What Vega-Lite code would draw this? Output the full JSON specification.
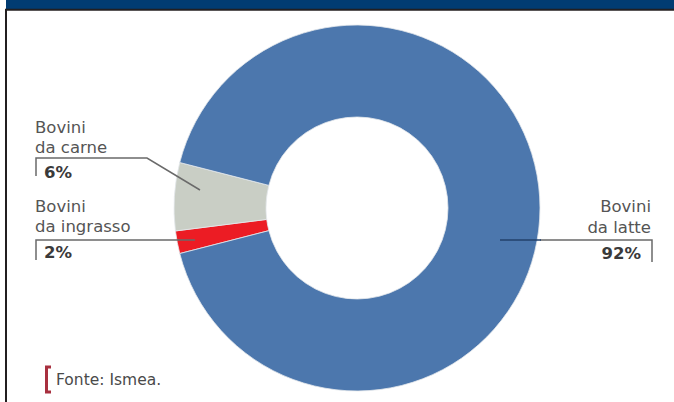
{
  "$schema": "https://vega.github.io/schema/vega-lite/v6.json",
  "width": 674,
  "height": 402,
  "autosize": "none",
  "padding": 0,
  "background": "#ffffff",
  "config": {"view": {"stroke": null}},
  "layer": [
    {
      "data": {"values": [{"x": 6, "x2": 674, "y": 0, "y2": 9}]},
      "mark": {"type": "rect", "color": "#013c72"},
      "encoding": {
        "x": {"field": "x", "type": "quantitative", "scale": {"domain": [0, 674], "nice": false, "zero": false}, "axis": null},
        "x2": {"field": "x2"},
        "y": {"field": "y", "type": "quantitative", "scale": {"domain": [0, 402], "nice": false, "zero": false, "reverse": true}, "axis": null},
        "y2": {"field": "y2"}
      }
    },
    {
      "data": {"values": [
        {"x": 5, "x2": 674, "y": 9.8, "y2": 9.8},
        {"x": 6, "x2": 6, "y": 9, "y2": 402}
      ]},
      "mark": {"type": "rule", "color": "#231f20", "strokeWidth": 2},
      "encoding": {
        "x": {"field": "x", "type": "quantitative", "scale": {"domain": [0, 674], "nice": false, "zero": false}, "axis": null},
        "x2": {"field": "x2"},
        "y": {"field": "y", "type": "quantitative", "scale": {"domain": [0, 402], "nice": false, "zero": false, "reverse": true}, "axis": null},
        "y2": {"field": "y2"}
      }
    },
    {
      "data": {"values": [
        {"cat": "Bovini da ingrasso", "v": 2, "ord": 1},
        {"cat": "Bovini da carne", "v": 6, "ord": 2},
        {"cat": "Bovini da latte", "v": 92, "ord": 3}
      ]},
      "mark": {"type": "arc", "radius": 183, "radius2": 91, "stroke": "#e4e9ec", "strokeWidth": 0.8},
      "encoding": {
        "theta": {"field": "v", "type": "quantitative", "stack": true, "scale": {"range": [4.461, 10.744]}},
        "order": {"field": "ord", "type": "quantitative"},
        "color": {"field": "cat", "type": "nominal", "legend": null,
          "scale": {"domain": ["Bovini da ingrasso", "Bovini da carne", "Bovini da latte"], "range": ["#ec1c24", "#c9cec5", "#4c77ad"]}},
        "x": {"datum": 357, "type": "quantitative", "scale": {"domain": [0, 674], "nice": false, "zero": false}, "axis": null},
        "y": {"datum": 208, "type": "quantitative", "scale": {"domain": [0, 402], "nice": false, "zero": false, "reverse": true}, "axis": null}
      }
    },
    {
      "data": {"values": [
        {"g": "carne", "i": 1, "x": 36, "y": 176},
        {"g": "carne", "i": 2, "x": 36, "y": 158},
        {"g": "carne", "i": 3, "x": 147, "y": 158},
        {"g": "carne", "i": 4, "x": 200, "y": 190},
        {"g": "ingrasso", "i": 1, "x": 36, "y": 260},
        {"g": "ingrasso", "i": 2, "x": 36, "y": 240},
        {"g": "ingrasso", "i": 3, "x": 195, "y": 240},
        {"g": "latte", "i": 1, "x": 540, "y": 240},
        {"g": "latte", "i": 2, "x": 652, "y": 240},
        {"g": "latte", "i": 3, "x": 652, "y": 262}
      ]},
      "mark": {"type": "line", "color": "#6a6a6a", "strokeWidth": 1.5},
      "encoding": {
        "x": {"field": "x", "type": "quantitative", "scale": {"domain": [0, 674], "nice": false, "zero": false}, "axis": null},
        "y": {"field": "y", "type": "quantitative", "scale": {"domain": [0, 402], "nice": false, "zero": false, "reverse": true}, "axis": null},
        "detail": {"field": "g", "type": "nominal"},
        "order": {"field": "i", "type": "quantitative"}
      }
    },
    {
      "data": {"values": [{"x": 500, "x2": 541, "y": 240}]},
      "mark": {"type": "rule", "color": "#22406b", "strokeWidth": 1.5},
      "encoding": {
        "x": {"field": "x", "type": "quantitative", "scale": {"domain": [0, 674], "nice": false, "zero": false}, "axis": null},
        "x2": {"field": "x2"},
        "y": {"field": "y", "type": "quantitative", "scale": {"domain": [0, 402], "nice": false, "zero": false, "reverse": true}, "axis": null}
      }
    },
    {
      "data": {"values": [
        {"i": 1, "x": 51, "y": 367},
        {"i": 2, "x": 46.5, "y": 367},
        {"i": 3, "x": 46.5, "y": 392},
        {"i": 4, "x": 51, "y": 392}
      ]},
      "mark": {"type": "line", "color": "#a8303f", "strokeWidth": 3},
      "encoding": {
        "x": {"field": "x", "type": "quantitative", "scale": {"domain": [0, 674], "nice": false, "zero": false}, "axis": null},
        "y": {"field": "y", "type": "quantitative", "scale": {"domain": [0, 402], "nice": false, "zero": false, "reverse": true}, "axis": null},
        "order": {"field": "i", "type": "quantitative"}
      }
    },
    {
      "data": {"values": [
        {"t": "Bovini\nda carne", "x": 35, "y": 133},
        {"t": "Bovini\nda ingrasso", "x": 35, "y": 212}
      ]},
      "mark": {"type": "text", "align": "left", "baseline": "alphabetic", "lineBreak": "\n", "lineHeight": 20, "font": "DejaVu Sans", "fontSize": 16.5, "color": "#555555"},
      "encoding": {
        "x": {"field": "x", "type": "quantitative", "scale": {"domain": [0, 674], "nice": false, "zero": false}, "axis": null},
        "y": {"field": "y", "type": "quantitative", "scale": {"domain": [0, 402], "nice": false, "zero": false, "reverse": true}, "axis": null},
        "text": {"field": "t", "type": "nominal"}
      }
    },
    {
      "data": {"values": [
        {"t": "Bovini\nda latte", "x": 651, "y": 212}
      ]},
      "mark": {"type": "text", "align": "right", "baseline": "alphabetic", "lineBreak": "\n", "lineHeight": 21, "font": "DejaVu Sans", "fontSize": 16.5, "color": "#555555"},
      "encoding": {
        "x": {"field": "x", "type": "quantitative", "scale": {"domain": [0, 674], "nice": false, "zero": false}, "axis": null},
        "y": {"field": "y", "type": "quantitative", "scale": {"domain": [0, 402], "nice": false, "zero": false, "reverse": true}, "axis": null},
        "text": {"field": "t", "type": "nominal"}
      }
    },
    {
      "data": {"values": [
        {"t": "6%", "x": 44, "y": 178},
        {"t": "2%", "x": 44, "y": 258}
      ]},
      "mark": {"type": "text", "align": "left", "baseline": "alphabetic", "font": "DejaVu Sans", "fontSize": 16.5, "fontWeight": "bold", "color": "#3a3a3a"},
      "encoding": {
        "x": {"field": "x", "type": "quantitative", "scale": {"domain": [0, 674], "nice": false, "zero": false}, "axis": null},
        "y": {"field": "y", "type": "quantitative", "scale": {"domain": [0, 402], "nice": false, "zero": false, "reverse": true}, "axis": null},
        "text": {"field": "t", "type": "nominal"}
      }
    },
    {
      "data": {"values": [
        {"t": "92%", "x": 641, "y": 259}
      ]},
      "mark": {"type": "text", "align": "right", "baseline": "alphabetic", "font": "DejaVu Sans", "fontSize": 16.5, "fontWeight": "bold", "color": "#3a3a3a"},
      "encoding": {
        "x": {"field": "x", "type": "quantitative", "scale": {"domain": [0, 674], "nice": false, "zero": false}, "axis": null},
        "y": {"field": "y", "type": "quantitative", "scale": {"domain": [0, 402], "nice": false, "zero": false, "reverse": true}, "axis": null},
        "text": {"field": "t", "type": "nominal"}
      }
    },
    {
      "data": {"values": [
        {"t": "Fonte: Ismea.", "x": 56, "y": 385}
      ]},
      "mark": {"type": "text", "align": "left", "baseline": "alphabetic", "font": "DejaVu Sans", "fontSize": 15.5, "color": "#4a4a4a"},
      "encoding": {
        "x": {"field": "x", "type": "quantitative", "scale": {"domain": [0, 674], "nice": false, "zero": false}, "axis": null},
        "y": {"field": "y", "type": "quantitative", "scale": {"domain": [0, 402], "nice": false, "zero": false, "reverse": true}, "axis": null},
        "text": {"field": "t", "type": "nominal"}
      }
    }
  ]
}
